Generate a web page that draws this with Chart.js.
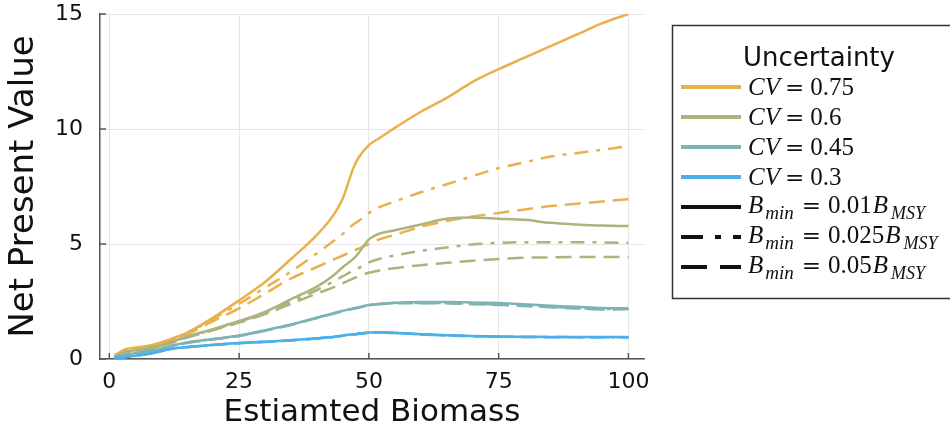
<!DOCTYPE html>
<html>
<head>
<meta charset="utf-8">
<script src="https://cdn.jsdelivr.net/npm/chart.js@4.4.1/dist/chart.umd.min.js"></script>
<style>
  html, body { margin: 0; padding: 0; background: #fff; }
  canvas { display: block; }
</style>
</head>
<body>
<canvas id="c" width="950" height="436"></canvas>
<script>
// Wspólna siatka biomasy dla wszystkich serii
const biomass = [1, 3, 5, 8, 10, 12, 15, 20, 25, 30, 35, 40, 43, 45, 47, 48, 50, 52, 55, 60, 65, 70, 75, 80, 85, 90, 95, 100];

// CV = 0.75
const cv75_01  = [0.15, 0.42, 0.5, 0.6, 0.72, 0.88, 1.15, 1.8, 2.55, 3.35, 4.35, 5.4, 6.2, 7.0, 8.3, 8.75, 9.3, 9.6, 10.05, 10.75, 11.35, 12.05, 12.6, 13.1, 13.6, 14.1, 14.6, 15.0];
const cv75_025 = [0.1, 0.35, 0.45, 0.55, 0.68, 0.85, 1.12, 1.75, 2.4, 3.1, 3.8, 4.6, 5.1, 5.45, 5.85, 6.0, 6.35, 6.6, 6.85, 7.25, 7.6, 7.95, 8.3, 8.55, 8.8, 8.95, 9.1, 9.25];
const cv75_05  = [0.1, 0.3, 0.4, 0.52, 0.65, 0.82, 1.08, 1.65, 2.2, 2.85, 3.5, 4.0, 4.3, 4.5, 4.7, 4.8, 5.0, 5.2, 5.4, 5.75, 6.0, 6.2, 6.35, 6.5, 6.65, 6.75, 6.85, 6.95];
// CV = 0.6
const cv60_01  = [0.1, 0.3, 0.38, 0.5, 0.6, 0.75, 0.98, 1.3, 1.65, 2.05, 2.6, 3.15, 3.6, 4.0, 4.35, 4.6, 5.2, 5.45, 5.6, 5.85, 6.1, 6.15, 6.1, 6.05, 5.92, 5.85, 5.8, 5.78];
const cv60_025 = [0.1, 0.28, 0.36, 0.48, 0.58, 0.72, 0.95, 1.28, 1.62, 2.0, 2.5, 3.0, 3.35, 3.6, 3.85, 3.95, 4.2, 4.35, 4.5, 4.7, 4.85, 4.98, 5.05, 5.08, 5.08, 5.08, 5.07, 5.05];
const cv60_05  = [0.1, 0.27, 0.35, 0.47, 0.57, 0.7, 0.93, 1.25, 1.58, 1.95, 2.4, 2.85, 3.1, 3.3, 3.5, 3.6, 3.75, 3.85, 3.95, 4.08, 4.18, 4.27, 4.35, 4.4, 4.42, 4.43, 4.43, 4.43];
// CV = 0.45
const cv45_01  = [0.05, 0.18, 0.25, 0.38, 0.45, 0.58, 0.72, 0.87, 1.02, 1.25, 1.5, 1.8, 1.98, 2.1, 2.2, 2.25, 2.35, 2.4, 2.45, 2.48, 2.48, 2.46, 2.43, 2.38, 2.32, 2.27, 2.22, 2.2];
const cv45_025 = [0.05, 0.17, 0.24, 0.37, 0.44, 0.57, 0.71, 0.86, 1.01, 1.24, 1.49, 1.79, 1.97, 2.09, 2.19, 2.24, 2.34, 2.39, 2.43, 2.44, 2.43, 2.4, 2.37, 2.32, 2.27, 2.22, 2.17, 2.18];
const cv45_05  = [0.05, 0.17, 0.24, 0.36, 0.44, 0.56, 0.7, 0.85, 1.0, 1.23, 1.48, 1.78, 1.96, 2.08, 2.18, 2.23, 2.33, 2.38, 2.42, 2.42, 2.42, 2.38, 2.35, 2.3, 2.25, 2.2, 2.15, 2.17];
// CV = 0.3
const cv30_01  = [0.05, 0.08, 0.14, 0.25, 0.35, 0.45, 0.52, 0.62, 0.7, 0.75, 0.82, 0.9, 0.96, 1.02, 1.08, 1.1, 1.15, 1.16, 1.14, 1.08, 1.03, 1.0, 0.98, 0.97, 0.96, 0.96, 0.96, 0.96];
const cv30_025 = [0.05, 0.08, 0.14, 0.25, 0.34, 0.44, 0.52, 0.61, 0.69, 0.75, 0.82, 0.9, 0.96, 1.01, 1.07, 1.1, 1.14, 1.15, 1.13, 1.07, 1.02, 0.99, 0.97, 0.96, 0.96, 0.95, 0.95, 0.95];
const cv30_05  = [0.05, 0.08, 0.13, 0.24, 0.34, 0.44, 0.51, 0.61, 0.69, 0.74, 0.81, 0.89, 0.95, 1.01, 1.07, 1.09, 1.14, 1.15, 1.13, 1.07, 1.02, 0.99, 0.97, 0.96, 0.95, 0.95, 0.95, 0.95];

const xTicks = [0, 25, 50, 75, 100];
const yTicks = [0, 5, 10, 15];
const cvLabels = ["0.75", "0.6", "0.45", "0.3"];
const bminLabels = ["0.01", "0.025", "0.05"];

// Kolory i wzory linii (jedno źródło dla wykresu i legendy)
const COLORS = ["#e9b04b", "#aeb27d", "#7db4b3", "#4cafe8"];
const DASH = { solid: [], dashdot: [14, 8, 4, 8], dash: [16, 8] };
const LEG_DASH = [[], [22, 12, 6, 12], [26, 13]];

const seriesByCv = [
  [cv75_01, cv75_025, cv75_05],
  [cv60_01, cv60_025, cv60_05],
  [cv45_01, cv45_025, cv45_05],
  [cv30_01, cv30_025, cv30_05],
];
const dashKeys = ["solid", "dashdot", "dash"];

const datasets = [];
seriesByCv.forEach((group, ci) => {
  group.forEach((vals, bi) => {
    datasets.push({
      data: biomass.map((b, i) => ({ x: b, y: vals[i] })),
      borderColor: COLORS[ci], borderWidth: 2.5, borderDash: DASH[dashKeys[bi]],
      pointRadius: 0, cubicInterpolationMode: "monotone", fill: false,
      order: 100 - datasets.length,
    });
  });
});

const FONT = "DejaVu Sans";

// Kreski podziałki skierowane do środka (jak w Plots.jl)
const innerTicks = {
  id: "innerTicks",
  afterDraw(chart) {
    const { ctx, chartArea: a, scales: { x, y } } = chart;
    ctx.save();
    ctx.strokeStyle = "#555"; ctx.lineWidth = 1.5;
    ctx.beginPath();
    xTicks.forEach(v => { const p = x.getPixelForValue(v); ctx.moveTo(p, a.bottom); ctx.lineTo(p, a.bottom - 6); });
    yTicks.forEach(v => { const p = y.getPixelForValue(v); ctx.moveTo(a.left, p); ctx.lineTo(a.left + 6, p); });
    ctx.stroke();
    ctx.restore();
  },
};

// Prosty skład "matematyczny": kursywa, indeksy dolne, szeroki znak "="
function drawMath(ctx, x, base, parts) {
  for (const p of parts) {
    const fam = p.fam || '"Liberation Serif"';
    ctx.font = (p.it ? "italic " : "") + (p.size || 25) + "px " + fam;
    x += p.pre || 0;
    ctx.fillText(p.t, x, base + (p.dy || 0));
    x += ctx.measureText(p.t).width + (p.post || 0);
  }
}

// Legenda rysowana ręcznie - Chart.js nie umie indeksów dolnych
const mathLegend = {
  id: "mathLegend",
  afterDraw(chart) {
    const ctx = chart.ctx;
    ctx.save();
    ctx.fillStyle = "#fff";
    ctx.fillRect(672, 25, 290, 273);
    ctx.strokeStyle = "#333"; ctx.lineWidth = 1.5;
    ctx.strokeRect(672.5, 25.5, 290, 273);
    ctx.fillStyle = "#111";
    ctx.textAlign = "center"; ctx.textBaseline = "alphabetic";
    ctx.font = '26px "' + FONT + '"';
    ctx.fillText("Uncertainty", 819, 66);
    ctx.textAlign = "left";
    const eq = { t: "=", fam: '"DejaVu Serif"', size: 23 };
    const rows = cvLabels.length + bminLabels.length;
    for (let i = 0; i < rows; i++) {
      const ly = 87 + 30 * i;
      const isCv = i < cvLabels.length;
      ctx.strokeStyle = isCv ? COLORS[i] : "#111";
      ctx.lineWidth = 4;
      ctx.setLineDash(isCv ? [] : LEG_DASH[i - cvLabels.length]);
      ctx.beginPath(); ctx.moveTo(681, ly); ctx.lineTo(741, ly); ctx.stroke();
      ctx.setLineDash([]);
      ctx.fillStyle = "#111";
      if (isCv) {
        drawMath(ctx, 748, ly + 8, [
          { t: "CV", it: true }, Object.assign({ pre: 5, post: 6 }, eq), { t: cvLabels[i] },
        ]);
      } else {
        drawMath(ctx, 748, ly + 5.5, [
          { t: "B", it: true, post: 2 }, { t: "min", it: true, size: 19, dy: 6 },
          Object.assign({ pre: 8, post: 7 }, eq), { t: bminLabels[i - cvLabels.length], post: 1 },
          { t: "B", it: true, post: 3 }, { t: "MSY", it: true, size: 18, dy: 6 },
        ]);
      }
    }
    ctx.restore();
  },
};

new Chart(document.getElementById("c"), {
  type: "line",
  data: { datasets },
  options: {
    responsive: false, animation: false,
    layout: { padding: { top: 14, right: 306, left: 0, bottom: 0 } },
    plugins: { legend: { display: false }, tooltip: { enabled: false } },
    scales: {
      x: {
        type: "linear", min: -1.8, max: 103,
        afterFit: s => { s.height = 77; },
        afterBuildTicks: s => { s.ticks = xTicks.map(v => ({ value: v })); },
        grid: { color: "#e6e6e6", drawTicks: false },
        border: { color: "#555", width: 1.5 },
        ticks: { padding: 10, color: "#111", font: { family: FONT, size: 22 } },
        title: { display: true, text: "Estiamted Biomass", color: "#111",
                 font: { family: FONT, size: 31 }, padding: { top: 0, bottom: 4 } },
      },
      y: {
        type: "linear", min: 0, max: 15,
        afterFit: s => { s.width = 100; s.paddingTop = 0; s.paddingBottom = 0; },
        afterBuildTicks: s => { s.ticks = yTicks.map(v => ({ value: v })); },
        grid: { color: "#e6e6e6", drawTicks: false },
        border: { color: "#555", width: 1.5 },
        ticks: { padding: 17, color: "#111", font: { family: FONT, size: 22 } },
        title: { display: true, text: "Net Present Value", color: "#111",
                 font: { family: FONT, size: 34 }, padding: { top: 4, bottom: 0 } },
      },
    },
  },
  plugins: [innerTicks, mathLegend],
});
</script>
</body>
</html>
